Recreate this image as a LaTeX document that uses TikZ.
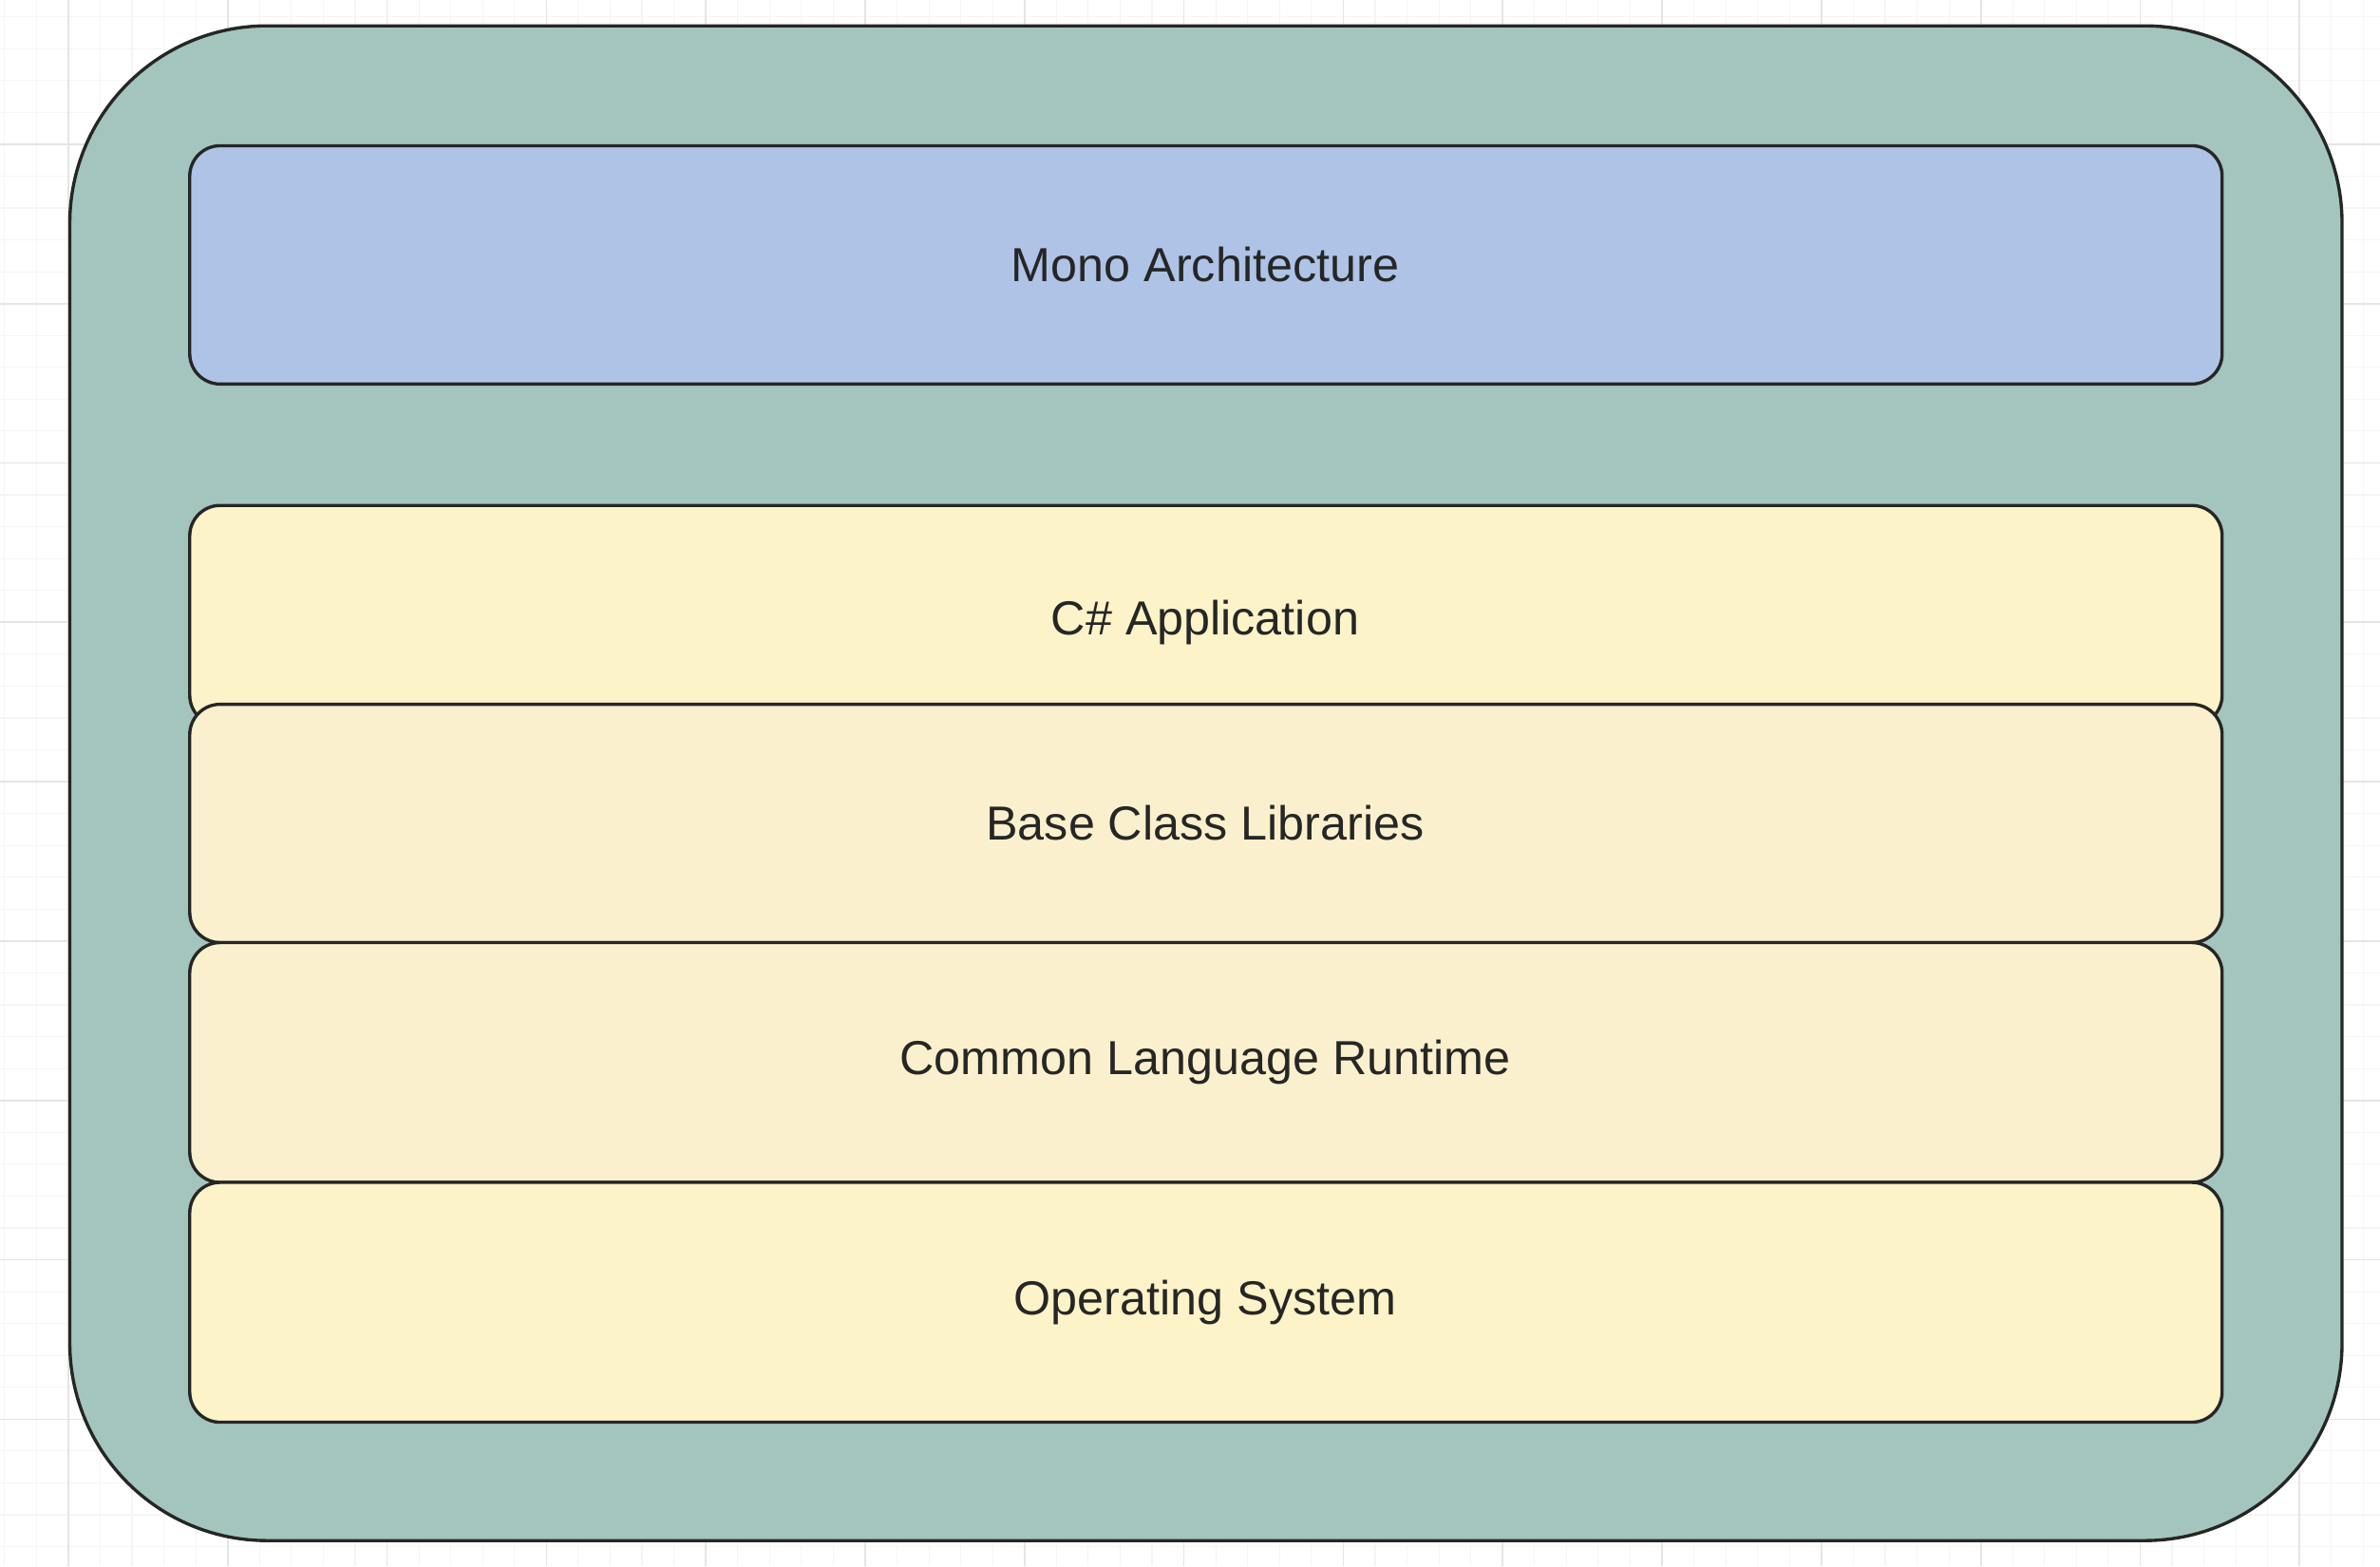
\documentclass[tikz,border=0pt]{standalone}
\usepackage{fontspec}
\setmainfont{Liberation Sans}
\definecolor{outerc}{HTML}{A3C5BD}
\definecolor{monoc}{HTML}{AEC3E6}
\definecolor{layc}{HTML}{FDF3C8}
\definecolor{layb}{HTML}{FBF0CD}
\definecolor{gridc}{HTML}{EEEEEE}
\begin{document}
\begin{tikzpicture}[x=0.01cm,y=-0.01cm,
  layer/.style={draw=black!85,line width=0.6pt,rounded corners=0.2cm},
  lab/.style={font=\fontsize{8.95}{10}\selectfont,text=black!85},
]
\useasboundingbox (0,0) rectangle (1568,1032);
\fill[white] (0,0) rectangle (1568,1032);
\foreach \x in {3,24,...,1568} \draw[gridc!60,line width=0.2pt] (\x,0) -- (\x,1032);
\foreach \y in {11,32,...,1032} \draw[gridc!60,line width=0.2pt] (0,\y) -- (1568,\y);
\foreach \x in {45,150,...,1568} \draw[gridc!150,line width=0.3pt] (\x,0) -- (\x,1032);
\foreach \y in {-10,95,...,1032} \draw[gridc!150,line width=0.3pt] (0,\y) -- (1568,\y);
\draw[fill=outerc,draw=black!85,line width=0.6pt,rounded corners=1.3cm] (46,17) rectangle (1543,1015);
\node[coordinate] (outer) at (794,516) {};
\draw[layer,fill=monoc] (125,96) rectangle (1464,253);
\node[lab] (mono) at (794,174) {Mono Architecture};
\draw[layer,fill=layc] (125,333) rectangle (1464,478);
\node[lab] (cs) at (794,410) {C\# Application};
\draw[layer,fill=layb] (125,464) rectangle (1464,621);
\node[lab] (bcl) at (794,542) {Base Class Libraries};
\draw[layer,fill=layb] (125,621) rectangle (1464,779);
\node[lab] (clr) at (794,700) {Common Language Runtime};
\draw[layer,fill=layc] (125,779) rectangle (1464,937);
\node[lab] (os) at (794,858) {Operating System};
\end{tikzpicture}
\end{document}
